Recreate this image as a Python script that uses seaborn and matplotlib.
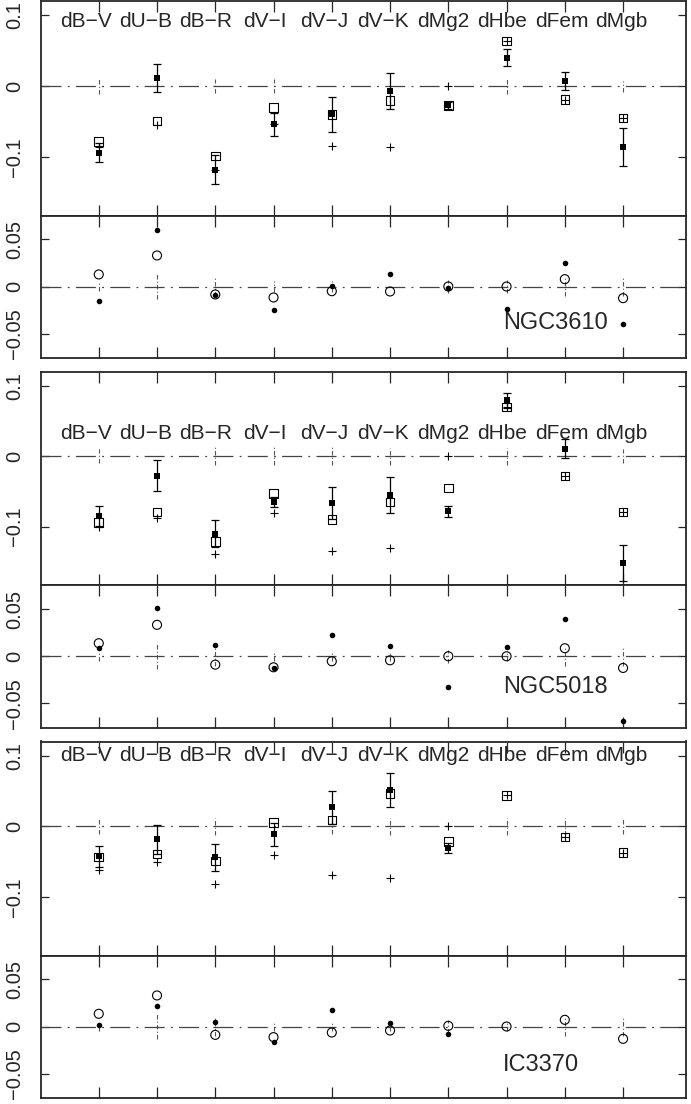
import matplotlib
matplotlib.use('Agg')
import matplotlib.pyplot as plt
import seaborn as sns
import numpy as np

nan = np.nan

labels = ['dB−V', 'dU−B', 'dB−R', 'dV−I', 'dV−J', 'dV−K', 'dMg2', 'dHbe', 'dFem', 'dMgb']
cats = np.arange(1, 11)

# --- NGC3610 ---
n3610_open = [-0.078, -0.049, -0.099, -0.030, -0.040, -0.020, -0.027, 0.064, -0.019, -0.045]
n3610_fill = [-0.094, 0.012, -0.118, -0.054, -0.040, -0.007, -0.027, 0.040, 0.007, -0.0865]
n3610_err = [0.0135, 0.020, 0.020, 0.016, 0.025, 0.025, 0.005, 0.012, 0.013, 0.027]
n3610_plus = [-0.086, -0.055, -0.118, -0.054, -0.085, -0.086, 0.0, 0.064, -0.019, -0.045]
n3610_zbar = [0.011, 0.008, 0.010, 0.010, 0.0, 0.0, 0.0, 0.011, 0.0, 0.008]
n3610_circ = [0.0128, 0.033, -0.0085, -0.0117, -0.005, -0.0053, 0.0, 0.0, 0.0078, -0.0124]
n3610_dot = [-0.015, 0.060, -0.009, -0.025, 0.001, 0.0128, -0.002, -0.024, 0.025, -0.040]
n3610_zbar2 = [0.005, 0.013, 0.010, 0.006, 0.006, 0.0, 0.007, 0.007, 0.010, 0.010]

# --- NGC5018 ---
n5018_open = [-0.094, -0.079, -0.121, -0.053, -0.090, -0.065, -0.045, 0.070, -0.028, -0.079]
n5018_fill = [-0.085, -0.028, -0.110, -0.065, -0.0667, -0.055, -0.078, 0.0795, 0.011, -0.152]
n5018_err = [0.014, 0.022, 0.019, 0.007, 0.023, 0.025, 0.008, 0.011, 0.013, 0.026]
n5018_plus = [-0.101, -0.088, -0.1385, -0.080, -0.134, -0.131, 0.0, 0.070, -0.028, -0.079]
n5018_zbar = [0.010, 0.0, 0.013, 0.013, 0.013, 0.012, 0.0, 0.012, 0.0, 0.010]
n5018_circ = [0.0138, 0.0333, -0.0089, -0.0117, -0.0053, -0.0043, 0.0, 0.0, 0.0085, -0.0124]
n5018_dot = [0.0085, 0.0507, 0.0117, -0.0124, 0.023, 0.0106, -0.0326, 0.0096, 0.039, -0.069]
n5018_zbar2 = [0.005, 0.013, 0.010, 0.005, 0.005, 0.005, 0.007, 0.005, 0.010, 0.010]

# --- IC3370 ---
ic3370_open = [-0.043, -0.039, -0.0487, 0.0057, 0.009, 0.047, -0.021, 0.044, -0.015, -0.037]
ic3370_fill = [-0.042, -0.0184, -0.044, -0.011, 0.027, 0.0515, -0.030, nan, nan, nan]
ic3370_err = [0.015, 0.021, 0.019, 0.016, 0.024, 0.024, 0.007, nan, nan, nan]
ic3370_plus = [-0.0615, -0.0506, -0.082, -0.040, -0.0686, -0.073, 0.0, 0.044, -0.015, -0.037]
ic3370_zbar = [0.010, 0.0, 0.012, 0.0, 0.010, 0.012, 0.0, 0.012, 0.012, 0.010]
ic3370_circ = [0.0135, 0.033, -0.0089, -0.0113, -0.0064, -0.0043, 0.0007, 0.0, 0.0071, -0.0131]
ic3370_dot = [0.002, 0.022, 0.0046, -0.0167, 0.0177, 0.0039, -0.0082, nan, nan, nan]
ic3370_zbar2 = [0.005, 0.013, 0.010, 0.005, 0.005, 0.005, 0.007, 0.005, 0.010, 0.010]

galaxies = [
    ('NGC3610', n3610_open, n3610_fill, n3610_err, n3610_plus, n3610_zbar,
     n3610_circ, n3610_dot, n3610_zbar2, 0.092, -0.039),
    ('NGC5018', n5018_open, n5018_fill, n5018_err, n5018_plus, n5018_zbar,
     n5018_circ, n5018_dot, n5018_zbar2, 0.032, -0.033),
    ('IC3370', ic3370_open, ic3370_fill, ic3370_err, ic3370_plus, ic3370_zbar,
     ic3370_circ, ic3370_dot, ic3370_zbar2, 0.100, -0.041),
]

sns.set_style('ticks')
plt.rcParams['font.family'] = ['Liberation Sans', 'DejaVu Sans']
plt.rcParams['axes.linewidth'] = 1.3

W, H = 691, 1104
fig = plt.figure(figsize=(W / 100, H / 100), dpi=100)

# pixel rows of the panel frames (top, bottom)
big_rows = [(1, 215.5), (371.5, 585), (741.5, 955.5)]
small_rows = [(215.5, 357.5), (585, 727.5), (955.5, 1097.5)]
left_px, right_px = 40.5, 686

dashdot = (0, (16, 5, 1.5, 5))


def make_ax(top, bottom):
    return fig.add_axes([left_px / W, 1 - bottom / H, (right_px - left_px) / W, (bottom - top) / H])


def style_ax(ax, yticks, ylim):
    ax.set_xlim(0.0, 11.08)
    ax.set_ylim(*ylim)
    ax.set_xticks(cats)
    ax.set_xticklabels([])
    ax.set_yticks(yticks)
    ax.set_yticklabels(['0' if v == 0 else f'{v:g}'.replace('-', '−') for v in yticks],
                       rotation=90, va='center', fontsize=14.5)
    ax.tick_params(axis='x', direction='in', length=8, width=0.9, top=True, bottom=True)
    ax.tick_params(axis='y', direction='in', length=6, width=0.9, left=True, right=True, pad=12)
    ax.axhline(0, color='#444444', lw=0.9, ls=dashdot, zorder=1)
    ax.set_xlabel('')
    ax.set_ylabel('')


label_x = cats - 0.213 + 0.02 * (cats - 1)

for (name, sq_open, sq_fill, sq_err, plus, zbar, circ, dot, zbar2, ty, ny), (t1, b1), (t2, b2) in zip(
        galaxies, big_rows, small_rows):
    ax = make_ax(t1, b1)
    zb = np.array(zbar)
    ax.vlines(cats[zb > 0], -zb[zb > 0], zb[zb > 0], color='#555555', lw=0.8,
              linestyles=(0, (4, 2, 1, 2)), zorder=1)
    ax.errorbar(cats, sq_fill, yerr=sq_err, fmt='none', ecolor='black', elinewidth=0.9,
                capsize=3, capthick=0.9, zorder=2)
    sns.scatterplot(x=cats, y=sq_open, ax=ax, marker='s', s=38, facecolor='none',
                    edgecolor='black', linewidth=0.8, zorder=3)
    sns.scatterplot(x=cats, y=plus, ax=ax, marker='+', s=40, color='black',
                    linewidth=0.8, zorder=3)
    sns.scatterplot(x=cats, y=sq_fill, ax=ax, marker='s', s=18, color='black',
                    linewidth=0, zorder=4)
    for lx, lab in zip(label_x, labels):
        ax.text(lx, ty, lab, ha='center', va='center', fontsize=15)
    style_ax(ax, [-0.1, 0, 0.1], (-0.183, 0.1205))

    ax2 = make_ax(t2, b2)
    zb2 = np.array(zbar2)
    ax2.vlines(cats[zb2 > 0], -zb2[zb2 > 0], zb2[zb2 > 0], color='#555555', lw=0.8,
               linestyles=(0, (4, 2, 1, 2)), zorder=1)
    sns.scatterplot(x=cats, y=circ, ax=ax2, marker='o', s=42, facecolor='none',
                    edgecolor='black', linewidth=0.8, zorder=3)
    sns.scatterplot(x=cats, y=dot, ax=ax2, marker='o', s=16, color='black',
                    linewidth=0, zorder=4)
    ax2.text(7.94, ny, name, ha='left', va='center', fontsize=17)
    style_ax(ax2, [-0.05, 0, 0.05], (-0.0755, 0.0755))

fig.savefig('out.png', dpi=100)
